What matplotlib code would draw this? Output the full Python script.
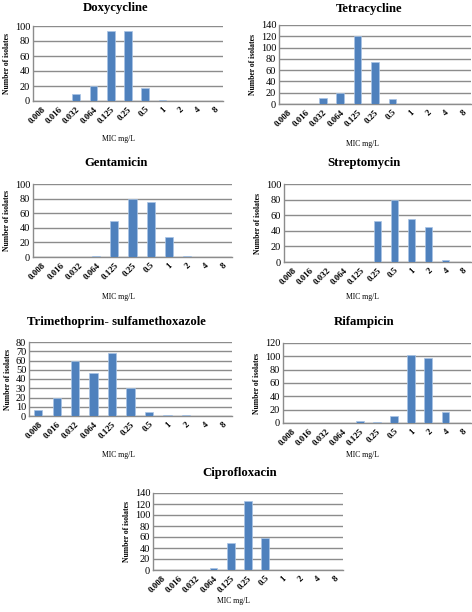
import matplotlib
matplotlib.use("Agg")
import matplotlib.pyplot as plt

plt.rcParams['font.family'] = ['Liberation Serif', 'DejaVu Serif']

# MIC categories
mic = ["0.008", "0.016", "0.032", "0.064", "0.125", "0.25", "0.5", "1", "2", "4", "8"]

doxycycline = [0, 0, 9, 20, 94, 93, 18, 1, 0, 0, 0]
tetracycline = [0, 0, 11, 20, 120, 74, 9, 0, 0, 0, 0]
gentamicin = [0, 0, 0, 2, 50, 80, 75, 27, 1, 0, 0]
streptomycin = [0, 0, 0, 0, 0, 52, 80, 55, 45, 2, 0]
trimethoprim = [7, 20, 60, 46, 68, 30, 4, 1, 1, 0, 0]
rifampicin = [0, 0, 0, 0, 3, 1, 11, 102, 98, 17, 0]
ciprofloxacin = [0, 0, 0, 3, 50, 125, 58, 0, 0, 0, 0]

W, H = 472, 612
fig = plt.figure(figsize=(W / 100, H / 100), dpi=100)

BAR = "#4F81BD"
GRID = "#8c8c8c"


def panel(name, values, left, right, top, bottom, ymax, step, title_xy, xlabel_xy):
    # pixel box -> figure coords
    ax = fig.add_axes([left / W, 1 - bottom / H, (right - left) / W, (bottom - top) / H])
    x = range(len(mic))
    ax.bar(x, values, width=0.45, color=BAR, edgecolor="#a9c4e6", linewidth=0.5, zorder=3)
    ax.set_xlim(-0.5, len(mic) - 0.5)
    ax.set_ylim(0, ymax)
    ax.set_yticks(range(0, ymax + 1, step))
    ax.yaxis.grid(True, color=GRID, linewidth=1.0, zorder=0)
    ax.set_xticks(list(x))
    ax.set_xticklabels(mic, rotation=45, ha="right", rotation_mode="anchor",
                       fontsize=6.5, fontweight="bold")
    for lab in ax.get_yticklabels():
        lab.set_fontsize(7.5)
    ax.tick_params(axis="both", length=0, pad=2)
    ax.tick_params(axis="x", pad=3)
    for s in ["top", "right"]:
        ax.spines[s].set_visible(False)
    ax.spines["left"].set_color(GRID)
    ax.spines["bottom"].set_color(GRID)
    ax.spines["left"].set_linewidth(1.0)
    ax.spines["bottom"].set_linewidth(1.0)
    ax.set_ylabel("Number of isolates", fontsize=5.5, fontweight="bold", labelpad=3)
    fig.text(title_xy[0] / W, 1 - title_xy[1] / H, name, ha="center", va="center",
             fontsize=9.2, fontweight="bold")
    fig.text(xlabel_xy[0] / W, 1 - xlabel_xy[1] / H, "MIC mg/L", ha="center",
             va="center", fontsize=5.5)
    return ax


panel("Doxycycline", doxycycline, 33, 223, 26, 101, 100, 20, (116, 8), (118, 139))
panel("Tetracycline", tetracycline, 279, 471, 25, 104, 140, 20, (369, 9), (362, 144))
panel("Gentamicin", gentamicin, 33, 232, 184, 257, 100, 20, (116, 163), (118, 297))
panel("Streptomycin", streptomycin, 284, 471, 184, 262, 100, 20, (364, 163), (362, 297))
panel("Trimethoprim- sulfamethoxazole", trimethoprim, 29, 232, 342, 416, 80, 10,
      (116, 322), (118, 455))
panel("Rifampicin", rifampicin, 283, 471, 343, 423, 120, 20, (364, 322), (362, 455))
panel("Ciprofloxacin", ciprofloxacin, 153, 343, 493, 570, 140, 20, (240, 473), (233, 601))

fig.savefig("out.png", dpi=100)
